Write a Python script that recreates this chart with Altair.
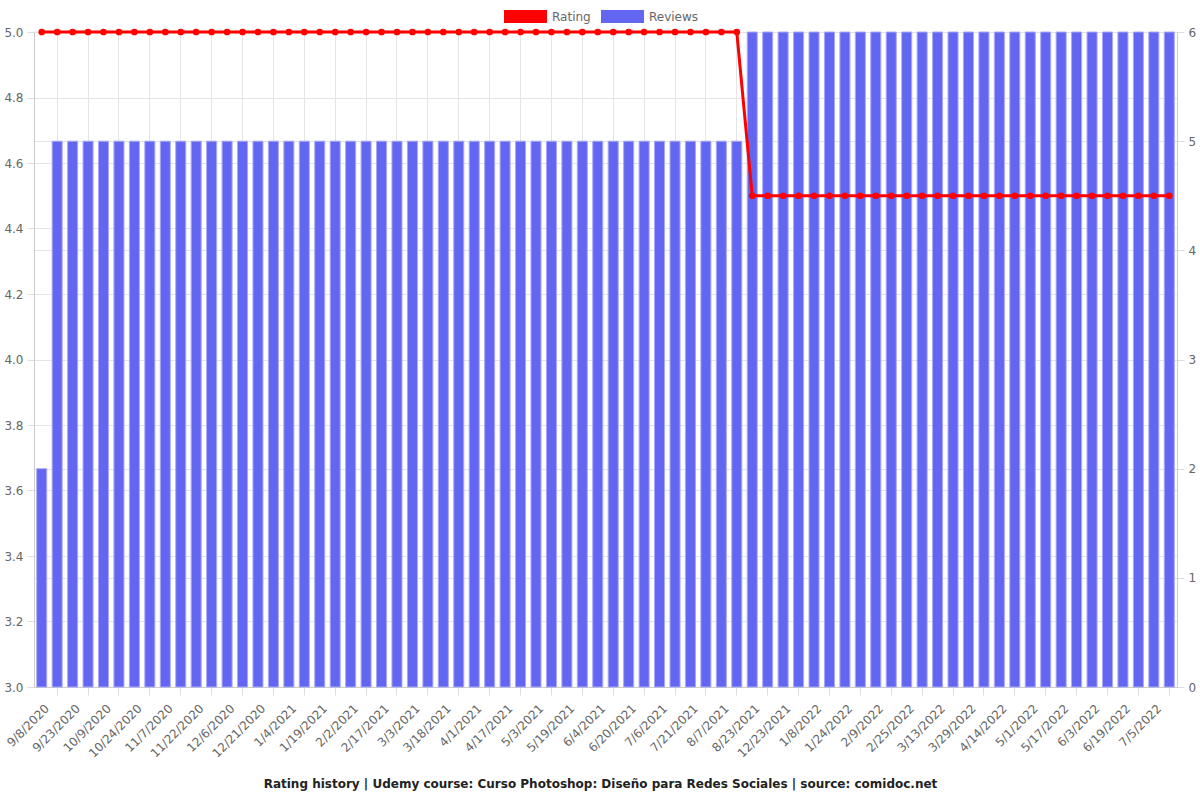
import altair as alt
import pandas as pd

dates = [
    "9/1/2020", "9/8/2020", "9/16/2020", "9/23/2020", "10/1/2020", "10/9/2020",
    "10/16/2020", "10/24/2020", "10/31/2020", "11/7/2020", "11/15/2020", "11/22/2020",
    "11/29/2020", "12/6/2020", "12/14/2020", "12/21/2020", "12/28/2020", "1/4/2021",
    "1/12/2021", "1/19/2021", "1/26/2021", "2/2/2021", "2/10/2021", "2/17/2021",
    "2/24/2021", "3/3/2021", "3/11/2021", "3/18/2021", "3/25/2021", "4/1/2021",
    "4/9/2021", "4/17/2021", "4/25/2021", "5/3/2021", "5/11/2021", "5/19/2021",
    "5/27/2021", "6/4/2021", "6/12/2021", "6/20/2021", "6/28/2021", "7/6/2021",
    "7/14/2021", "7/21/2021", "7/29/2021", "8/7/2021", "8/15/2021", "8/23/2021",
    "12/15/2021", "12/23/2021", "12/31/2021", "1/8/2022", "1/16/2022", "1/24/2022",
    "2/1/2022", "2/9/2022", "2/17/2022", "2/25/2022", "3/5/2022", "3/13/2022",
    "3/21/2022", "3/29/2022", "4/6/2022", "4/14/2022", "4/22/2022", "5/1/2022",
    "5/9/2022", "5/17/2022", "5/25/2022", "6/3/2022", "6/11/2022", "6/19/2022",
    "6/27/2022", "7/5/2022",
]

reviews = [2] + [5] * 45 + [6] * 28
ratings = [5.0] * 46 + [4.5] * 28

tick_dates = dates[1::2]

df = pd.DataFrame({"date": dates, "reviews": reviews, "rating": ratings})

color_scale = alt.Scale(domain=["Rating", "Reviews"], range=["#ff0000", "#6366f1"])

x_axis = alt.Axis(
    values=tick_dates, labelAngle=-45, labelAlign="right", labelBaseline="middle",
    labelOffset=-10, labelPadding=11, grid=True, gridColor="#e4e4e4",
    tickSize=8, tickColor="#dddddd", domainColor="#cccccc", title=None,
    labelColor="#666666", labelFontSize=12,
)

x_enc = alt.X("date:N", sort=dates, axis=x_axis,
              scale=alt.Scale(paddingInner=0.35, paddingOuter=0.175))

bars = alt.Chart(df).transform_calculate(series="'Reviews'").mark_bar(
    stroke="#a9aaf7", strokeWidth=1
).encode(
    x=x_enc,
    y=alt.Y("reviews:Q", scale=alt.Scale(domain=[0, 6], nice=False),
            axis=alt.Axis(orient="right", values=[0, 1, 2, 3, 4, 5, 6], title=None,
                          grid=True, gridColor="#e4e4e4", tickSize=7, tickColor="#dddddd",
                          domainColor="#cccccc", labelColor="#666666", labelFontSize=12,
                          labelPadding=4)),
    color=alt.Color("series:N", scale=color_scale, legend=alt.Legend(
        title=None, orient="none", direction="horizontal", legendX=470, legendY=-37,
        symbolType="M-1,-0.3H1V0.3H-1Z", symbolSize=1849, symbolStrokeWidth=0,
        labelFontSize=12, labelColor="#666666", columnPadding=10, labelOffset=5,
    )),
)

line = alt.Chart(df).transform_calculate(series="'Rating'").mark_line(
    strokeWidth=3,
    point=alt.OverlayMarkDef(filled=True, size=45),
).encode(
    x=x_enc,
    y=alt.Y("rating:Q", scale=alt.Scale(domain=[3, 5], nice=False),
            axis=alt.Axis(orient="left", values=[3.0, 3.2, 3.4, 3.6, 3.8, 4.0, 4.2, 4.4, 4.6, 4.8, 5.0],
                          format=".1f", title=None, grid=True, gridColor="#e4e4e4",
                          tickSize=7, tickColor="#dddddd", domainColor="#cccccc",
                          labelColor="#666666", labelFontSize=12, labelPadding=4)),
    color=alt.Color("series:N", scale=color_scale),
)

chart = alt.layer(bars, line).resolve_scale(y="independent").properties(
    width=1143, height=655,
    autosize=alt.AutoSizeParams(type="none"),
    padding={"left": 34, "top": 32, "right": 23, "bottom": 113},
    title=alt.TitleParams(
        "Rating history | Udemy course: Curso Photoshop: Diseño para Redes Sociales | source: comidoc.net",
        orient="bottom", anchor="middle", fontSize=12, fontWeight="bold", color="#222222",
        offset=20, dx=-5,
    ),
).configure(font="DejaVu Sans").configure_view(stroke=None)

chart.save("out.html", embed_options={"renderer": "svg", "actions": False})
